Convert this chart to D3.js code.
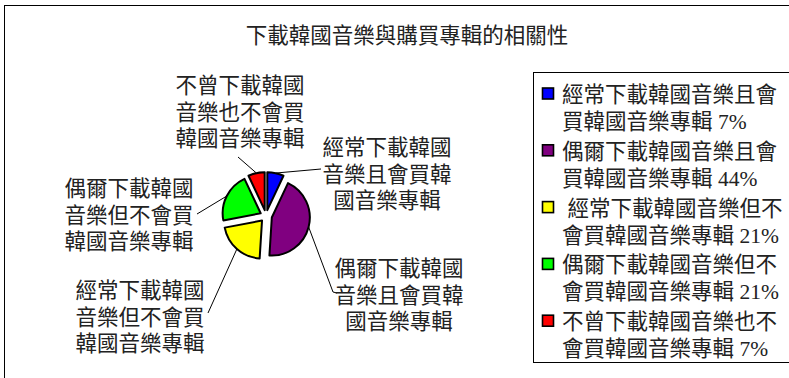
<!DOCTYPE html>
<html>
<head>
<meta charset="utf-8">
<script src="https://cdn.jsdelivr.net/npm/d3@7"></script>
<style>
  html, body { margin: 0; padding: 0; background: #fff; }
  svg { display: block; }
  text { font-family: "Liberation Serif", "Noto Sans CJK TC", serif; font-size: 21.5px; fill: #222; }
  .num { font-family: "Liberation Serif", serif; }
</style>
</head>
<body>
<svg id="chart" width="789" height="378"></svg>
<script>
// ---- data ----
const title = "下載韓國音樂與購買專輯的相關性";
const categories = [
  "經常下載韓國音樂且會買韓國音樂專輯",
  "偶爾下載韓國音樂且會買韓國音樂專輯",
  "經常下載韓國音樂但不會買韓國音樂專輯",
  "偶爾下載韓國音樂但不會買韓國音樂專輯",
  "不曾下載韓國音樂也不會買韓國音樂專輯"
];
const values = [7, 44, 21, 21, 7];
const colors = ["#0000FF", "#800080", "#FFFF00", "#00FF00", "#FF0000"];

// ---- layout ----
const W = 789, H = 378;
const baseShift = 8;          // baseline offset from the glyph centre line
const pieCenter = [266, 216];
const radius = 38;
const explode = 6;
// label block centre (x, y of first line) and leader end point for each slice
const sliceLabelPos = [
  { x: 387, y: 147, lx: 321, ly: 169 },
  { x: 399, y: 268, lx: 333, ly: 292, tick: true },
  { x: 140, y: 290, lx: 208, ly: 313 },
  { x: 129, y: 188, lx: 197, ly: 214 },
  { x: 240, y: 85,  lx: 238, ly: 157 }
];
const labelLineGap = 26.7;
const legendBox = { x: 533.5, y: 72.5, w: 300, h: 290 };
const legendFirstY = 94, legendEntryGap = 56.8, legendLineGap = 27;

const chunk = (s, n) => {
  const out = [];
  const chars = Array.from(s);
  for (let i = 0; i < chars.length; i += n) out.push(chars.slice(i, i + n).join(""));
  return out;
};

const svg = d3.select("#chart");

// outer frame
svg.append("rect")
  .attr("x", 4.5).attr("y", 5.5)
  .attr("width", W + 20).attr("height", H + 20)
  .attr("fill", "#fff").attr("stroke", "#000").attr("stroke-width", 1);

// title
svg.append("text")
  .attr("x", 407).attr("y", 34.5 + baseShift)
  .attr("text-anchor", "middle")
  .text(title);

// pie
const pie = d3.pie().sort(null).value(d => d).startAngle(0).endAngle(2 * Math.PI);
const arcs = pie(values);
const arc = d3.arc().innerRadius(0).outerRadius(radius);
const mid = d => (d.startAngle + d.endAngle) / 2;

const g = svg.append("g").attr("transform", `translate(${pieCenter[0]},${pieCenter[1]})`);

g.selectAll("path.slice")
  .data(arcs)
  .join("path")
  .attr("class", "slice")
  .attr("transform", d => `translate(${Math.sin(mid(d)) * explode},${-Math.cos(mid(d)) * explode})`)
  .attr("d", arc)
  .attr("fill", (d, i) => colors[i])
  .attr("stroke", "#000")
  .attr("stroke-width", 2)
  .attr("stroke-linejoin", "round");

// leader lines
arcs.forEach((d, i) => {
  const a = mid(d);
  const sx = pieCenter[0] + Math.sin(a) * (explode + radius);
  const sy = pieCenter[1] - Math.cos(a) * (explode + radius);
  const p = sliceLabelPos[i];
  const pts = [[sx, sy], [p.lx, p.ly]];
  if (p.tick) pts.push([p.lx + 4, p.ly + 1]);
  svg.append("path")
    .attr("d", d3.line()(pts))
    .attr("fill", "none")
    .attr("stroke", "#000")
    .attr("stroke-width", 1);
});

// slice labels
categories.forEach((c, i) => {
  const p = sliceLabelPos[i];
  const t = svg.append("text").attr("text-anchor", "middle");
  chunk(c, 6).forEach((line, k) => {
    t.append("tspan")
      .attr("x", p.x)
      .attr("y", p.y + k * labelLineGap + baseShift)
      .text(line);
  });
});

// legend
svg.append("rect")
  .attr("x", legendBox.x).attr("y", legendBox.y)
  .attr("width", legendBox.w).attr("height", legendBox.h)
  .attr("fill", "#fff").attr("stroke", "#000").attr("stroke-width", 1);

categories.forEach((c, i) => {
  const y0 = legendFirstY + i * legendEntryGap;
  svg.append("rect")
    .attr("x", 542.5).attr("y", y0 - 6)
    .attr("width", 11).attr("height", 11)
    .attr("fill", colors[i])
    .attr("stroke", "#000").attr("stroke-width", 1.6);
  const lines = chunk(c, 10);
  const first = (i === 2 ? "\u00a0" : "") + lines[0];
  const t = svg.append("text").attr("text-anchor", "start");
  t.append("tspan")
    .attr("x", 562)
    .attr("y", y0 + baseShift)
    .text(first);
  t.append("tspan")
    .attr("x", 562)
    .attr("y", y0 + legendLineGap + baseShift)
    .text(lines.slice(1).join(""));
  t.append("tspan")
    .attr("class", "num")
    .text("\u00a0" + values[i] + "%");
});
</script>
</body>
</html>
